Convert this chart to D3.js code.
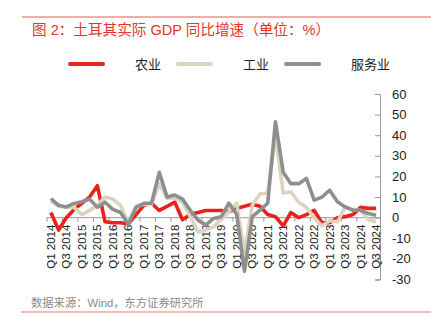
<!DOCTYPE html>
<html>
<head>
<meta charset="utf-8">
<script src="https://cdn.jsdelivr.net/npm/d3@7/dist/d3.min.js"></script>
<style>
  html, body { margin: 0; padding: 0; background: #fff; }
  svg { display: block; }
  text { font-family: "Liberation Sans", Arial, "Noto Sans CJK SC", sans-serif; }
  .cjk { font-family: "Liberation Sans", "Noto Sans CJK SC", sans-serif; }
</style>
</head>
<body>
<svg id="chart" width="431" height="332"></svg>
<script>
// Quarters Q1 2014 – Q3 2024
const years = d3.range(2014, 2025);
const quarters = [];
years.forEach(y => [1, 2, 3, 4].forEach(q => { if (!(y === 2024 && q === 4)) quarters.push(`Q${q} ${y}`); }));

// Real GDP growth by sector, % y/y
const agriculture = [2.5, -6, 0, 4, 7, 10, 15.5, -2, -2.5, -2.5, -3, 1.5, 6, 7, 3.5, 5.5, 7.5, -1, 1.5, 2.5,
  3.5, 3.5, 3.5, 3, 4.5, 5.5, 6.5, 5.5, 1.5, 0.5, -4, 2.5, 0, 1.5, 3.5, -2.5, -2.5, 0, 0.5, 1.5, 5, 4.5, 4.5];
const industry = [8, 5.5, 5, 5, 1.5, 3.5, 6, 10, 9, 6, -2.5, 5.5, 6.5, 6.5, 16.5, 9.5, 9.5, 7.5, 0.5, -7,
  -6, -4.5, -1, 3, 7, -17, 6, 11.5, 12, 40, 12, 12.5, 7.5, 5, 0, -4, -1.5, -2, 5, 4, 3.5, -1, -2];
const services = [9.3, 6, 5.2, 6.9, 7.7, 9, 5, 7.5, 4, 2.5, -3.2, 5, 7, 7, 22, 10, 11, 9, 3.6, -1.2,
  -3.6, -0.4, 0.5, 7, 1.5, -26, 0.5, 3.6, 7, 46.5, 22, 16.5, 16.5, 19, 8.5, 10, 13.3, 7.7, 5.2, 3.6, 3.6, 2, 1.2];

const yTicks = [60, 50, 40, 30, 20, 10, 0, -10, -20, -30];
const seriesNames = ["农业", "工业", "服务业"];
const seriesColors = ["#e8231e", "#ddd4bf", "#8f8f8f"];

const svg = d3.select("#chart");

// Header and footer rules
svg.append("line").attr("x1", 22).attr("x2", 431).attr("y1", 17).attr("y2", 17)
  .attr("stroke", "#e35d57").attr("stroke-width", 1.2);
svg.append("text").attr("class", "cjk").attr("x", 32).attr("y", 35)
  .attr("font-size", 14.6).attr("fill", "#e3352d")
  .text("图 2：土耳其实际 GDP 同比增速（单位：%）");

svg.append("line").attr("x1", 21).attr("x2", 431).attr("y1", 312).attr("y2", 312)
  .attr("stroke", "#e57a76").attr("stroke-width", 1.2);
svg.append("text").attr("class", "cjk").attr("x", 31).attr("y", 307)
  .attr("font-size", 11.3).attr("fill", "#8a8a8a")
  .text("数据来源：Wind，东方证券研究所");

// Scales
const x = d3.scaleBand().domain(quarters).range([47, 380]).padding(0);
const y = d3.scaleLinear().domain([-30, 60]).range([279.5, 94]);
const cx = d => x(d) + x.bandwidth() / 2;

// Right value axis
const yAxis = d3.axisLeft(y).tickValues(yTicks).tickSize(5).tickFormat("");
const gy = svg.append("g").attr("transform", "translate(380,0)").call(yAxis);
gy.select(".domain").attr("stroke", "#999");
gy.selectAll(".tick line").attr("stroke", "#999");
svg.append("g").selectAll("text").data(yTicks).join("text")
  .attr("x", 392).attr("y", d => y(d)).attr("dy", "0.35em")
  .attr("font-size", 13).attr("fill", "#222")
  .text(d => d);

// Category axis on the zero line
const labelled = quarters.filter((q, i) => i % 2 === 0);
const gx = svg.append("g").attr("transform", `translate(0,${y(0)})`);
gx.append("line").attr("x1", 47).attr("x2", 380).attr("stroke", "#999");
gx.selectAll("line.tk").data(labelled).join("line").attr("class", "tk")
  .attr("x1", d => x(d)).attr("x2", d => x(d)).attr("y1", 0).attr("y2", 4)
  .attr("stroke", "#999");
gx.selectAll("text").data(labelled).join("text")
  .attr("transform", d => `translate(${cx(d)},7) rotate(-90)`)
  .attr("text-anchor", "end").attr("dy", "0.35em")
  .attr("font-size", 11.5).attr("fill", "#222")
  .text(d => d);

// Series lines
const line = d3.line().x((d, i) => cx(quarters[i])).y(d => y(d));
[agriculture, industry, services].forEach((vals, k) => {
  svg.append("path").datum(vals)
    .attr("d", line).attr("fill", "none")
    .attr("stroke", seriesColors[k]).attr("stroke-width", 3.6)
    .attr("stroke-linejoin", "round").attr("stroke-linecap", "butt");
});

// Legend
const legendItems = [
  { x1: 70, tx: 135 },
  { x1: 178, tx: 243 },
  { x1: 286, tx: 351 }
];
legendItems.forEach((it, k) => {
  svg.append("line").attr("x1", it.x1).attr("x2", it.x1 + 33).attr("y1", 64).attr("y2", 64)
    .attr("stroke", seriesColors[k]).attr("stroke-width", 4).attr("stroke-linecap", "round");
  svg.append("text").attr("class", "cjk").attr("x", it.tx).attr("y", 64).attr("dy", "0.35em")
    .attr("font-size", 13).attr("fill", "#222").text(seriesNames[k]);
});
</script>
</body>
</html>
